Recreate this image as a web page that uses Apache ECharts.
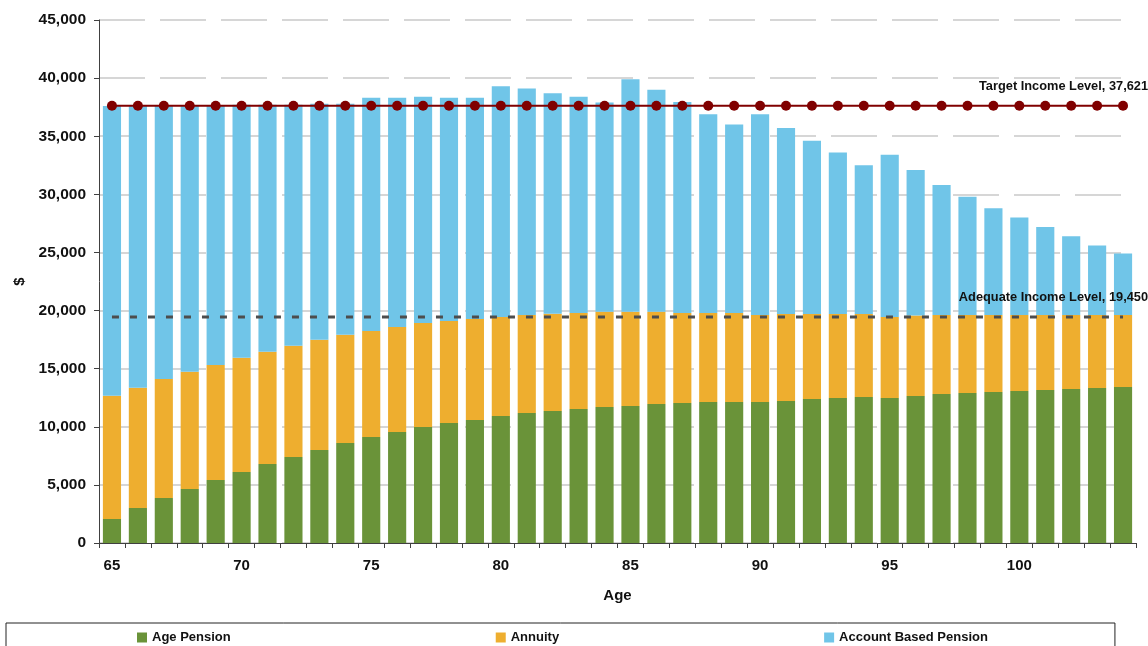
<!DOCTYPE html>
<html>
<head>
<meta charset="utf-8">
<script src="https://cdn.jsdelivr.net/npm/echarts@6/dist/echarts.min.js"></script>
<style>
html,body{margin:0;padding:0;background:#fff;}
#chart{width:1148px;height:646px;}
</style>
</head>
<body>
<div id="chart"></div>
<script>
const ages = ['65','66','67','68','69','70','71','72','73','74','75','76','77','78','79','80','81','82','83','84','85','86','87','88','89','90','91','92','93','94','95','96','97','98','99','100','101','102','103','104'];
const agePension = [2070,3010,3870,4650,5420,6110,6800,7400,8000,8600,9120,9550,9980,10330,10580,10930,11190,11360,11530,11700,11790,11960,12050,12130,12130,12130,12220,12390,12480,12560,12480,12650,12820,12910,13000,13080,13170,13250,13340,13420];
const annuity = [10600,10350,10240,10090,9900,9840,9660,9580,9490,9320,9120,9040,8950,8770,8690,8520,8430,8370,8260,8200,8110,7940,7740,7660,7660,7490,7480,7310,7220,7140,6970,6920,6800,6710,6620,6540,6450,6370,6280,6200];
const accountBased = [24930,24240,23490,22860,22280,21750,21240,20720,20310,19880,20060,19710,19470,19200,19030,19850,19480,18970,18610,18000,20000,19100,18160,17110,16210,17280,16000,14900,13900,12800,13950,12530,11180,10180,9180,8380,7580,6780,5980,5280];
const targetIncome = 37621;
const adequateIncome = 19450;
const targetLabel = 'Target Income Level, 37,621';
const adequateLabel = 'Adequate Income Level, 19,450';

const FONT = '"Liberation Sans", Arial, sans-serif';
const chart = echarts.init(document.getElementById('chart'), null, {renderer: 'canvas'});

function flatLine(value, labelText, labelOffset) {
  return ages.map((a, i) => {
    if (i === ages.length - 1) {
      return {
        value: value,
        label: {
          show: true, position: 'top', align: 'right', distance: 0,
          offset: labelOffset,
          formatter: labelText,
          fontFamily: FONT, fontWeight: 'bold', fontSize: 12.8, color: '#111'
        }
      };
    }
    return value;
  });
}

const option = {
  backgroundColor: '#fff',
  animation: false,
  textStyle: {fontFamily: FONT},
  grid: {left: 99, right: 12, top: 20, bottom: 103, containLabel: false},
  legend: {
    data: ['Age Pension', 'Annuity', 'Account Based Pension'],
    left: 6, top: 623,
    padding: [8, 127, 20, 131],
    itemGap: 265,
    itemWidth: 10, itemHeight: 10,
    icon: 'rect',
    borderColor: '#222', borderWidth: 1,
    textStyle: {fontFamily: FONT, fontWeight: 'bold', fontSize: 13, color: '#111'}
  },
  xAxis: {
    type: 'category',
    data: ages,
    boundaryGap: true,
    name: 'Age',
    nameLocation: 'middle',
    nameGap: 45,
    nameTextStyle: {fontFamily: FONT, fontWeight: 'bold', fontSize: 15, color: '#111'},
    axisLine: {show: true, lineStyle: {color: '#404040', width: 1}},
    axisTick: {show: true, interval: 0, length: 5, lineStyle: {color: '#404040'}},
    axisLabel: {interval: 4, margin: 15, fontFamily: FONT, fontWeight: 'bold', fontSize: 15, color: '#111'},
    splitLine: {show: false}
  },
  yAxis: {
    type: 'value',
    min: 0, max: 45000, interval: 5000,
    name: '$',
    nameLocation: 'middle',
    nameRotate: 90,
    nameGap: 72,
    nameTextStyle: {fontFamily: FONT, fontWeight: 'bold', fontSize: 15, color: '#111'},
    axisLine: {show: true, lineStyle: {color: '#404040', width: 1}},
    axisTick: {show: true, length: 5, inside: false, lineStyle: {color: '#404040'}},
    axisLabel: {
      margin: 13, fontFamily: FONT, fontWeight: 'bold', fontSize: 15.5, color: '#111',
      formatter: v => v.toLocaleString('en-US')
    },
    splitLine: {show: true, lineStyle: {color: '#d6d6d6', width: 2, type: [46, 15], dashOffset: 0}}
  },
  series: [
    {
      name: 'Age Pension', type: 'bar', stack: 'inc', data: agePension,
      barCategoryGap: '30%', itemStyle: {color: '#6a9339'}
    },
    {
      name: 'Annuity', type: 'bar', stack: 'inc', data: annuity,
      itemStyle: {color: '#eeae2f'}
    },
    {
      name: 'Account Based Pension', type: 'bar', stack: 'inc', data: accountBased,
      itemStyle: {color: '#70c5e8'}
    },
    {
      name: 'Adequate', type: 'line', data: flatLine(adequateIncome, adequateLabel, [25, -8]),
      symbol: 'circle', symbolSize: 10, showSymbol: true, z: 5,
      itemStyle: {color: 'rgba(0,0,0,0)', borderWidth: 0},
      lineStyle: {color: '#4d4d4d', width: 3, type: [7, 11]}
    },
    {
      name: 'Target', type: 'line', data: flatLine(targetIncome, targetLabel, [25, -8]),
      symbol: 'circle', symbolSize: 10, z: 6,
      itemStyle: {color: '#800000'},
      lineStyle: {color: '#800000', width: 2}
    }
  ]
};
chart.setOption(option);
</script>
</body>
</html>
